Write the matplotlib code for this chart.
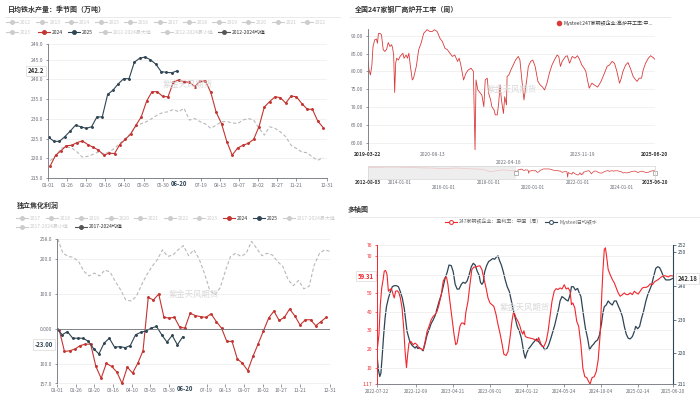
import numpy as np
import pandas as pd
import matplotlib
matplotlib.use('Agg')
import matplotlib.pyplot as plt
from matplotlib.lines import Line2D

plt.rcParams['font.family'] = ['Noto Sans CJK SC', 'DejaVu Sans']
plt.rcParams['axes.unicode_minus'] = False

# ---------------- data ----------------
# seasonal charts: x = day of year (2024 calendar)
days_2024 = np.arange(3, 365, 7)
days_2025 = np.arange(1, 170, 7)
iron_2024 = [218.1, 220.8, 221.9, 223.2, 223.3, 224.0, 224.4, 223.5, 222.8, 222.1,
             220.8, 221.3, 221.2, 223.5, 224.8, 226.1, 228.4, 230.5, 234.5, 236.9,
             236.9, 235.7, 235.6, 239.3, 239.9, 239.4, 239.3, 238.2, 239.6, 239.6,
             236.7, 231.7, 228.8, 224.2, 220.8, 222.6, 223.3, 223.8, 224.8, 228.0,
             233.0, 234.4, 235.6, 235.4, 234.0, 235.8, 235.6, 233.9, 232.5, 232.4,
             229.4, 227.8]
iron_2025 = [225.3, 224.3, 224.3, 225.5, 226.9, 228.4, 228.0, 227.6, 228.0, 230.5,
             230.5, 236.2, 237.3, 238.9, 240.2, 240.2, 244.4, 245.4, 245.7, 245.0,
             243.9, 242.0, 241.8, 241.7, 242.2]
iron_mean = [219.4, 220.6, 222.5, 222.9, 222.6, 221.6, 220.3, 220.5, 221.0, 221.6,
             221.2, 221.6, 222.5, 223.8, 225.0, 226.3, 228.0, 228.8, 229.3, 230.1,
             231.0, 231.6, 231.8, 232.4, 231.8, 232.7, 229.7, 230.1, 229.3, 228.7,
             227.6, 228.4, 229.3, 229.3, 229.0, 228.8, 229.7, 230.1, 229.7, 227.6,
             225.9, 228.0, 227.6, 226.7, 225.5, 223.3, 222.5, 221.6, 221.4, 220.3,
             219.5, 220.2]

coke_days_2025 = np.arange(0, 169, 7)
coke_mean_days = np.arange(1, 366, 7)
coke_2024 = [-3, -65, -63, -58, -48, -44, -44, -108, -142, -99,
             -108, -124, -157, -110, -127, -99, -63, 90, 83, 100,
             33, 31, 33, 5, 2, 45, 38, 35, 33, 43,
             21, 2, -36, -36, -86, -99, -120, -79, -43, -6,
             31, 51, 24, 33, 57, 37, 11, 26, 26, 9,
             21, 33]
coke_2025 = [0, -17, -8, -27, -27, -27, -36, -57, -72, -41, -27, -53, -51, -54, -48,
             -17, -10, -6, 2, 7, -17, -38, -19, -46, -23]
coke_mean = [258, 217, 208, 205, 193, 165, 152, 160, 152, 169,
             163, 136, 112, 83, 80, 93, 126, 155, 179, 198,
             227, 208, 212, 227, 239, 210, 227, 201, 160, 112,
             98, 117, 165, 208, 217, 208, 217, 251, 231, 210,
             217, 212, 193, 179, 141, 124, 139, 115, 122, 184,
             217, 227, 222]

season_tick_days = [0, 25, 50, 75, 100, 125, 150, 200, 225, 250, 275, 300, 325, 365]
season_tick_labels = ['01-01', '01-26', '02-20', '03-16', '04-10', '05-05', '05-30',
                      '07-19', '08-13', '09-07', '10-02', '10-27', '11-21', '12-31']
iron_legend_row1 = ['2012', '2013', '2014', '2015', '2016', '2017', '2018', '2019',
                    '2020', '2021', '2022']
coke_legend_row1 = ['2017', '2018', '2019', '2020', '2021', '2022', '2023']

# blast furnace utilisation, days after 2019-03-22
util_start = '2019-03-22'
util_days = [0, 8, 19, 30, 40, 54, 67, 75, 83, 94,
             107, 121, 134, 148, 161, 175, 188, 196, 204, 212,
             220, 228, 242, 255, 277, 287, 303, 314, 325, 336,
             352, 362, 384, 403, 422, 443, 470, 491, 510, 529,
             550, 572, 591, 612, 631, 652, 671, 690, 712, 725,
             738, 760, 779, 797, 819, 838, 851, 859, 873, 894,
             905, 921, 932, 948, 959, 975, 985, 1002, 1012, 1028,
             1039, 1050, 1061, 1077, 1087, 1101, 1106, 1120, 1136, 1155,
             1173, 1195, 1208, 1222, 1240, 1249, 1262, 1275, 1294, 1310,
             1329, 1351, 1369, 1388, 1404, 1423, 1442, 1463, 1482, 1504,
             1517, 1530, 1544, 1571, 1584, 1603, 1624, 1646, 1665, 1678,
             1700, 1718, 1732, 1745, 1759, 1780, 1799, 1826, 1853, 1880,
             1901, 1920, 1941, 1960, 1979, 2000, 2014, 2027, 2049, 2067,
             2086, 2108, 2129, 2140, 2156, 2175, 2188, 2207, 2229, 2247,
             2263, 2282]
util_vals = [82.8, 80.4, 79.0, 81.4, 87.0, 88.9, 89.1, 87.9, 90.6, 90.7,
             90.3, 86.1, 85.6, 86.2, 88.1, 87.0, 87.5, 86.5, 84.6, 74.1,
             82.3, 83.7, 83.2, 84.2, 85.1, 83.7, 84.6, 83.7, 85.1, 81.8,
             77.6, 78.1, 81.4, 86.1, 87.9, 90.7, 91.7, 91.2, 91.2, 91.7,
             91.2, 89.3, 88.4, 86.5, 86.1, 85.1, 84.2, 84.6, 82.8, 83.7,
             81.8, 77.6, 79.5, 80.4, 80.9, 80.0, 58.0, 77.6, 74.8, 73.9,
             73.4, 70.1, 77.6, 78.1, 73.9, 72.0, 70.1, 69.2, 67.8, 67.8,
             71.1, 76.2, 72.0, 68.2, 72.9, 70.6, 78.6, 79.0, 80.4, 81.8,
             83.2, 84.2, 83.2, 78.1, 72.0, 74.3, 77.6, 81.4, 82.8, 83.2,
             81.4, 77.2, 76.2, 75.6, 74.8, 76.7, 79.5, 81.8, 83.2, 84.6,
             84.2, 81.4, 82.8, 84.2, 84.4, 82.3, 84.2, 83.7, 84.4, 83.7,
             81.8, 80.9, 80.0, 77.6, 75.3, 76.7, 76.2, 75.6, 77.2, 79.5,
             81.4, 81.8, 82.8, 82.3, 80.0, 76.7, 78.1, 80.0, 81.8, 82.5,
             80.9, 78.6, 77.6, 77.2, 78.1, 78.1, 80.4, 82.3, 83.7, 84.4,
             84.0, 83.4]
util_hist_dates = ['2012-08-03', '2013-02-01', '2013-09-01', '2014-04-01', '2014-11-01',
                   '2015-06-01', '2016-01-01', '2016-08-01', '2017-03-01', '2017-10-01',
                   '2018-02-01', '2018-05-01', '2018-09-01', '2019-01-01', '2019-03-22']
util_hist_vals = [96, 98, 99, 98, 96, 95, 93, 95, 92, 90, 80, 84, 88, 85, 83]
util_ticks = ['2019-03-22', '2020-08-13', '2022-04-16', '2023-11-19', '2025-06-20']
slider_ticks = ['2012-08-03', '2014-01-01', '2016-01-01', '2018-01-01',
                '2020-01-01', '2022-01-01', '2024-01-01', '2025-06-20']
slider_tick_rows = [0, 0, 1, 0, 1, 0, 1, 0]

# multi axis chart, days after 2022-07-22
multi_start = '2022-07-22'
profit_days = [0, 7, 12, 17, 22, 26, 31, 36, 41, 46,
               52, 58, 62, 67, 73, 79, 84, 90, 96, 101,
               106, 110, 115, 122, 130, 137, 144, 151, 159, 166,
               173, 180, 187, 195, 202, 209, 216, 223, 231, 238,
               245, 250, 255, 259, 265, 271, 277, 283, 288, 293,
               298, 304, 310, 315, 319, 327, 334, 341, 348, 355,
               363, 370, 377, 384, 392, 399, 406, 413, 420, 428,
               435, 442, 449, 456, 464, 471, 478, 485, 490, 495,
               500, 507, 514, 519, 524, 528, 533, 540, 550, 560,
               569, 576, 581, 586, 593, 600, 608, 615, 622, 629,
               637, 644, 651, 658, 665, 673, 680, 687, 694, 699,
               704, 711, 718, 725, 733, 740, 747, 754, 761, 766,
               773, 781, 788, 795, 802, 808, 812, 817, 821, 826,
               831, 838, 846, 853, 860, 867, 874, 882, 889, 896,
               903, 910, 918, 925, 932, 939, 946, 954, 961, 968,
               975, 982, 990, 997, 1004, 1011, 1018, 1026, 1033, 1040,
               1047, 1054, 1064]
profit_vals = [18.6, 27.7, 43.9, 52.9, 57.4, 61.9, 62.3, 60.1, 51.1, 52.0,
               52.5, 49.3, 47.5, 51.1, 51.4, 50.2, 47.5, 42.1, 31.3, 18.6,
               10.0, 16.8, 23.2, 24.1, 22.3, 23.2, 22.3, 20.5, 20.1, 19.5,
               24.1, 29.5, 32.2, 35.8, 37.6, 38.5, 40.3, 43.9, 49.3, 56.5,
               58.6, 58.6, 54.6, 49.3, 42.1, 34.9, 27.7, 22.3, 23.2, 27.7,
               32.2, 34.0, 34.0, 33.1, 39.4, 45.7, 54.6, 62.8, 64.1, 64.1,
               64.6, 64.8, 62.8, 58.3, 52.9, 47.5, 44.8, 43.9, 43.0, 38.5,
               33.1, 28.6, 23.2, 17.2, 16.5, 18.6, 25.9, 34.9, 39.4, 38.8,
               36.7, 34.9, 32.2, 29.5, 28.0, 29.8, 26.8, 26.2, 25.9, 25.5,
               25.0, 24.1, 26.2, 24.1, 21.4, 21.4, 24.1, 29.5, 37.6, 45.7,
               51.1, 52.5, 52.0, 52.9, 52.3, 54.6, 52.3, 52.9, 51.1, 43.9,
               44.8, 42.1, 34.9, 32.2, 22.3, 9.6, 5.1, 4.6, 2.4, 1.2,
               4.6, 5.1, 7.8, 14.1, 27.7, 49.3, 61.9, 73.6, 74.5, 69.1,
               62.8, 60.1, 57.4, 55.6, 52.9, 50.2, 48.4, 49.3, 50.2, 49.3,
               49.3, 50.2, 49.3, 51.1, 50.2, 49.6, 51.1, 52.9, 53.2, 53.2,
               53.8, 55.1, 54.6, 56.1, 56.8, 57.4, 58.3, 59.2, 59.5, 59.2,
               58.8, 59.5, 59.31]
hotmetal_days = [0, 5, 10, 14, 19, 24, 29, 34, 41, 48,
                 55, 62, 70, 77, 84, 91, 98, 103, 108, 113,
                 118, 125, 130, 137, 142, 147, 151, 156, 161, 166,
                 173, 180, 187, 195, 202, 209, 216, 223, 231, 238,
                 245, 252, 259, 267, 274, 281, 288, 295, 303, 310,
                 317, 324, 331, 339, 346, 353, 360, 367, 372, 377,
                 382, 387, 394, 401, 408, 416, 423, 430, 435, 440,
                 447, 454, 461, 468, 476, 483, 490, 497, 504, 512,
                 519, 524, 528, 533, 538, 545, 552, 560, 567, 574,
                 581, 588, 596, 603, 610, 617, 625, 632, 639, 646,
                 653, 658, 665, 673, 680, 687, 694, 699, 706, 713,
                 721, 728, 733, 737, 742, 749, 757, 764, 771, 778,
                 785, 793, 800, 807, 812, 817, 824, 831, 838, 846,
                 853, 860, 867, 874, 882, 889, 896, 903, 910, 918,
                 925, 930, 937, 944, 951, 958, 966, 973, 980, 987,
                 994, 1002, 1009, 1016, 1023, 1030, 1038, 1045, 1052, 1064]
hotmetal_vals = [219.6, 215.2, 213.2, 214.2, 219.6, 225.5, 230.4, 233.8, 236.3, 238.2,
                 239.7, 240.0, 240.0, 239.7, 238.2, 236.3, 233.3, 229.9, 226.5, 225.0,
                 223.5, 222.5, 222.1, 221.6, 222.1, 221.4, 221.8, 221.4, 221.1, 220.8,
                 223.0, 225.5, 227.0, 228.9, 229.9, 231.2, 233.3, 235.3, 237.3, 239.7,
                 242.2, 243.9, 246.1, 245.9, 244.1, 240.4, 239.0, 239.0, 240.4, 241.0,
                 240.7, 241.4, 243.1, 245.6, 246.6, 246.1, 244.3, 243.1, 241.0, 240.4,
                 241.0, 244.1, 245.9, 247.1, 247.5, 248.0, 247.8, 248.5, 248.8, 247.5,
                 246.1, 244.1, 241.7, 239.7, 238.2, 235.5, 232.8, 230.4, 228.0, 226.5,
                 224.5, 222.1, 220.1, 218.6, 220.1, 221.4, 222.1, 223.0, 223.7, 224.3,
                 223.5, 222.7, 222.1, 221.1, 221.4, 222.5, 224.5, 226.5, 228.4, 230.9,
                 233.3, 235.5, 236.8, 236.3, 235.8, 235.5, 237.3, 239.7, 239.7, 238.7,
                 239.2, 237.7, 236.8, 234.3, 231.4, 227.5, 224.5, 221.1, 222.1, 222.7,
                 223.5, 224.0, 225.5, 228.9, 231.9, 233.8, 234.3, 235.5, 234.8, 234.3,
                 235.5, 235.5, 234.1, 232.8, 230.9, 228.0, 225.7, 224.5, 224.3, 225.0,
                 226.5, 228.0, 227.3, 228.0, 230.4, 232.4, 235.3, 237.3, 238.7, 240.2,
                 242.6, 245.1, 245.6, 245.3, 244.1, 242.6, 241.7, 241.7, 241.7, 242.18]
multi_ticks = ['2022-07-22', '2022-12-09', '2023-04-21', '2023-09-01', '2024-01-12',
               '2024-05-24', '2024-10-04', '2025-02-14', '2025-06-20']

# ---------------- style ----------------
RED = '#c23531'
NAVY = '#2f4554'
BRIGHT_RED = '#f2262c'
MEAN_GRAY = '#b8b8b8'
AXIS = '#6e7079'
GRID = '#ececec'
OFF = '#cccccc'
TXT = '#333333'
WM = '#d9d9d9'
TS = 3.6

W, H = 700, 395
fig = plt.figure(figsize=(7, 3.95), dpi=100)


def fx(px):
    return px / W


def fy(py):
    return 1 - py / H


def box(l, t, r, b):
    return [fx(l), fy(b), (r - l) / W, (b - t) / H]


def hline(x0, x1, y, color='#e6e6e6'):
    fig.add_artist(Line2D([fx(x0), fx(x1)], [fy(y), fy(y)], color=color, lw=0.6,
                          transform=fig.transFigure))


def legend_item(x, y, color, label, tcolor, hollow=False):
    fig.add_artist(Line2D([fx(x), fx(x + 12)], [fy(y), fy(y)], color=color, lw=0.8,
                          transform=fig.transFigure))
    fig.add_artist(Line2D([fx(x + 6)], [fy(y)], marker='o', ms=2.8, color=color,
                          mfc='white' if hollow else color, mew=0.7,
                          transform=fig.transFigure))
    fig.text(fx(x + 14), fy(y), label, fontsize=TS, color=tcolor, va='center')


def base_style(ax):
    for s in ax.spines.values():
        s.set_visible(False)
    ax.tick_params(labelsize=TS, colors=AXIS, length=1.8, width=0.5, pad=1.5)
    ax.grid(axis='y', color=GRID, lw=0.5)
    ax.set_axisbelow(True)
    ax.set_facecolor('none')


def value_box(ax, x, y, text, color, trans):
    ax.text(x, y, text, transform=trans, fontsize=4.3, fontweight='bold', color=color,
            ha='right', va='center', zorder=10, clip_on=False,
            bbox=dict(boxstyle='square,pad=0.3', fc='white', ec='#cfcfcf', lw=0.4))


# ---------------- panel 1: hot metal seasonal ----------------
fig.text(fx(8), fy(9), '日均铁水产量：季节图（万吨）', fontsize=5, fontweight='bold',
         color=TXT, va='center')
hline(5, 340, 17)
for i, lab in enumerate(iron_legend_row1):
    legend_item(6 + i * 29.5, 22, OFF, lab, OFF)
legend_item(6, 32, OFF, '2023', OFF)
legend_item(38, 32, RED, '2024', TXT)
legend_item(68, 32, NAVY, '2025', TXT)
legend_item(99, 32, OFF, '2012-2024最大值', OFF)
legend_item(161, 32, OFF, '2012-2024最小值', OFF)
legend_item(218, 32, '#555555', '2012-2024均值', TXT)

ax1 = fig.add_axes(box(48, 44, 327, 178))
base_style(ax1)
ax1.plot(days_2024, iron_mean, color=MEAN_GRAY, lw=0.8, ls=(0, (3, 2)))
ax1.plot(days_2024, iron_2024, color=RED, lw=0.8, marker='o', ms=1.1)
ax1.plot(days_2025, iron_2025, color=NAVY, lw=0.8, marker='o', ms=1.1)
ax1.set_xlim(0, 365)
ax1.set_ylim(215, 249)
for side in ('left', 'bottom'):
    ax1.spines[side].set_visible(True)
    ax1.spines[side].set_color(AXIS)
    ax1.spines[side].set_linewidth(0.6)
yt = [215, 220, 225, 230, 235, 240, 245, 249]
ax1.set_yticks(yt)
ax1.set_yticklabels([f'{v:.1f}' for v in yt])
ax1.set_xticks(season_tick_days)
ax1.set_xticklabels(season_tick_labels)
ax1.text(171, -0.012, '06-20', transform=ax1.get_xaxis_transform(), ha='center', va='top',
         fontsize=4.3, fontweight='bold', color=NAVY, zorder=10,
         bbox=dict(boxstyle='square,pad=0.15', fc='white', ec='none'))
value_box(ax1, -0.015, iron_2025[-1], f'{iron_2025[-1]:.1f}', TXT, ax1.get_yaxis_transform())
ax1.text(0.5, 0.7, '紫金天风期货', transform=ax1.transAxes, fontsize=6, color=WM,
         ha='center', va='center')

# ---------------- panel 2: blast furnace utilisation ----------------
fig.text(fx(355), fy(9), '全国247家钢厂高炉开工率（周）', fontsize=5, fontweight='bold',
         color=TXT, va='center')
hline(350, 670, 17)
fig.add_artist(Line2D([fx(559)], [fy(23)], marker='o', ms=3, color='#d93a3a',
                      transform=fig.transFigure))
fig.text(fx(563), fy(23), 'Mysteel:247家钢铁企业:高炉开工率:中...', fontsize=TS,
         color=TXT, va='center')

util_dates = pd.Timestamp(util_start) + pd.to_timedelta(util_days, unit='D')
ax2 = fig.add_axes(box(368, 29, 655, 150))
base_style(ax2)
ax2.plot(util_dates, util_vals, color='#d93a3a', lw=0.6)
ax2.set_xlim(util_dates[0], util_dates[-1])
ax2.set_ylim(min(util_vals) - 0.05, max(util_vals) + 0.2)
ax2.spines['left'].set_visible(True)
ax2.spines['left'].set_color(AXIS)
ax2.spines['left'].set_linewidth(0.6)
yt2 = [60, 65, 70, 75, 80, 85, 90]
ax2.set_yticks(yt2)
ax2.set_yticklabels([f'{v:.2f}' for v in yt2])
ax2.set_xticks(pd.to_datetime(util_ticks))
ax2.set_xticklabels(util_ticks)
ax2.tick_params(axis='x', length=0)
for i, t in enumerate(ax2.xaxis.get_major_ticks()):
    t.set_pad(7 if i == 2 else 1.5)
for i, lab in enumerate(ax2.get_xticklabels()):
    if i in (0, len(util_ticks) - 1):
        lab.set_fontweight('bold')
        lab.set_color(TXT)
ax2.text(0.5, 0.5, '紫金天风期货', transform=ax2.transAxes, fontsize=6, color=WM,
         ha='center', va='center')

# data zoom slider
hist_dates = pd.to_datetime(util_hist_dates)
axs = fig.add_axes(box(368, 166, 655, 179))
axs.set_xlim(hist_dates[0], util_dates[-1])
axs.set_ylim(51.6, 103)
axs.axvspan(hist_dates[0], util_dates[0], color='#eeeeee', lw=0)
axs.plot(hist_dates, util_hist_vals, color='#f2c4c4', lw=0.5)
axs.plot(util_dates, util_vals, color='#d93a3a', lw=0.5)
axs.set_xticks([])
axs.set_yticks([])
for s in axs.spines.values():
    s.set_color('#d5d5d5')
    s.set_linewidth(0.5)
for d in (util_dates[0], util_dates[-1]):
    axs.plot([d], [77], marker='s', ms=2.5, mfc='white', mec='#9a9a9a', mew=0.5,
             clip_on=False)
for i, d in enumerate(slider_ticks):
    xpos = axs.transLimits.transform((matplotlib.dates.date2num(pd.Timestamp(d)), 60))[0]
    ypix = 182 if slider_tick_rows[i] == 0 else 187.5
    bold = i in (0, len(slider_ticks) - 1)
    fig.text(fx(368) + xpos * (287 / W), fy(ypix), d, fontsize=3.4, ha='center',
             va='center', color=TXT if bold else AXIS,
             fontweight='bold' if bold else 'normal')

# ---------------- panel 3: coking profit seasonal ----------------
fig.text(fx(17), fy(205), '独立焦化利润', fontsize=5, fontweight='bold', color=TXT,
         va='center')
for i, lab in enumerate(coke_legend_row1):
    legend_item(16 + i * 29.5, 218, OFF, lab, OFF)
legend_item(223, 218, RED, '2024', TXT)
legend_item(253, 218, NAVY, '2025', TXT)
legend_item(283, 218, OFF, '2017-2024最大值', OFF)
legend_item(16, 227, OFF, '2017-2024最小值', OFF)
legend_item(75, 227, '#555555', '2017-2024均值', TXT)

ax3 = fig.add_axes(box(57, 239, 330, 383.5))
base_style(ax3)
ax3.plot(coke_mean_days, coke_mean, color=MEAN_GRAY, lw=0.8, ls=(0, (3, 2)))
ax3.plot(days_2024, coke_2024, color=RED, lw=0.8, marker='o', ms=1.1)
ax3.plot(coke_days_2025, coke_2025, color=NAVY, lw=0.8, marker='o', ms=1.1)
ax3.axhline(0, color=AXIS, lw=0.6)
ax3.set_xlim(0, 365)
ax3.set_ylim(min(coke_2024), max(coke_mean))
ax3.spines['left'].set_visible(True)
ax3.spines['left'].set_color(AXIS)
ax3.spines['left'].set_linewidth(0.6)
yt3 = [min(coke_2024), -100, 0, 100, 200, max(coke_mean)]
ax3.set_yticks(yt3)
ax3.set_yticklabels(['157.0', '100.0', '0.000', '100.0', '200.0', '258.0'])
ax3.set_xticks(season_tick_days)
ax3.set_xticklabels(season_tick_labels)
ax3.text(171, -0.012, '06-20', transform=ax3.get_xaxis_transform(), ha='center', va='top',
         fontsize=4.3, fontweight='bold', color=NAVY, zorder=10,
         bbox=dict(boxstyle='square,pad=0.15', fc='white', ec='none'))
value_box(ax3, -0.015, 0.27, f'{coke_2025[-1]:.2f}', NAVY, ax3.transAxes)
ax3.text(0.5, 0.62, '紫金天风期货', transform=ax3.transAxes, fontsize=6, color=WM,
         ha='center', va='center')

# ---------------- panel 4: multi axis ----------------
fig.text(fx(348), fy(209), '多轴图', fontsize=5, fontweight='bold', color=TXT, va='center')
hline(350, 700, 217)
legend_item(445, 222, BRIGHT_RED, '247家钢铁企业：盈利率：中国（周）', '#666666', hollow=True)
legend_item(545, 222, NAVY, 'Mysteel日均铁水', '#666666', hollow=True)

profit_dates = pd.Timestamp(multi_start) + pd.to_timedelta(profit_days, unit='D')
hot_dates = pd.Timestamp(multi_start) + pd.to_timedelta(hotmetal_days, unit='D')
ax4 = fig.add_axes(box(377, 245, 673, 384))
base_style(ax4)
ax4r = ax4.twinx()
for s in ax4r.spines.values():
    s.set_visible(False)
ax4.plot(profit_dates, profit_vals, color=BRIGHT_RED, lw=0.8, zorder=3)
ax4r.plot(hot_dates, hotmetal_vals, color=NAVY, lw=0.9)
ax4.set_zorder(ax4r.get_zorder() + 1)
ax4.set_xlim(profit_dates[0], profit_dates[-1])
ax4.set_ylim(1.17, 76)
ax4r.set_ylim(211, 252)
yt4 = [1.17, 10, 20, 30, 40, 50, 60, 70, 76]
ax4.set_yticks(yt4)
# the 60 label sits under the latest-value box, as in the source chart
ax4.set_yticklabels(['1.17', '10', '20', '30', '40', '50', '', '70', '76'])
ax4.tick_params(axis='y', colors=BRIGHT_RED)
ax4.spines['left'].set_visible(True)
ax4.spines['left'].set_color(BRIGHT_RED)
ax4.spines['left'].set_linewidth(0.7)
ax4.spines['bottom'].set_visible(True)
ax4.spines['bottom'].set_color(AXIS)
ax4.spines['bottom'].set_linewidth(0.6)
yt4r = [211, 220, 230, 240, 250, 252]
ax4r.set_yticks(yt4r)
ax4r.tick_params(labelsize=TS, colors=NAVY, length=1.8, width=0.5, pad=1.5)
ax4r.spines['right'].set_visible(True)
ax4r.spines['right'].set_color(NAVY)
ax4r.spines['right'].set_linewidth(0.8)
ax4.set_xticks(pd.to_datetime(multi_ticks))
ax4.set_xticklabels(multi_ticks)
ax4.tick_params(axis='x', labelsize=3.4)
value_box(ax4, -0.01, profit_vals[-1], f'{profit_vals[-1]:.2f}', BRIGHT_RED,
          ax4.get_yaxis_transform())
ax4r.text(1.015, hotmetal_vals[-1], f'{hotmetal_vals[-1]:.2f}', transform=ax4r.get_yaxis_transform(),
          fontsize=4.3, fontweight='bold', color=TXT, ha='left', va='center', zorder=10,
          clip_on=False, bbox=dict(boxstyle='square,pad=0.3', fc='white', ec='#cfcfcf', lw=0.4))
ax4.text(0.5, 0.55, '紫金天风期货', transform=ax4.transAxes, fontsize=6, color=WM,
         ha='center', va='center', zorder=1)

fig.savefig('out.png', dpi=100)
